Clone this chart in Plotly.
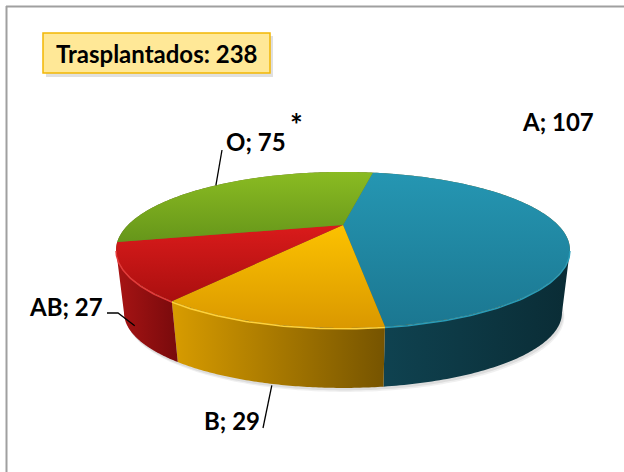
import numpy as np
import plotly.graph_objects as go

# ---- data ----
groups = ["A", "B", "AB", "O"]
counts = [107, 29, 27, 75]
total_text = "Trasplantados: 238"
note_mark = "*"

# ---- styles ----
top_cols = {"A": ("#2596b2", "#1b7791"), "B": ("#fcc200", "#da9800"),
            "AB": ("#da1b1b", "#aa0f0f"), "O": ("#8abb22", "#66961a")}
wall_cols = {"A": ("#0f4250", "#0a2c35"), "B": ("#d89c00", "#765400"),
             "AB": ("#a81414", "#780a0c"), "O": ("#5a8018", "#3a5a10")}
rim_cols = {"A": "#2a9cb8", "B": "#ffd23a", "AB": "#e43a3a", "O": "#9ac830"}

# projection geometry (layout)
cx, cy, Rx, Ry, a = 343, 225, 215, 70, 0.32
s, cyb = 0.965, 288.6
start_angle = 10.5


def proj(theta, bottom=False):
    t = np.radians(theta)
    u = np.sin(t)
    v = -np.cos(t)
    w = 1 - a * v
    X, Y = u / w, v / w
    if bottom:
        return cx + s * Rx * X, cyb + s * Ry * Y
    return cx + Rx * X, cy + Ry * Y


total = sum(counts)
spans = [c / total * 360 for c in counts]
starts = start_angle + np.concatenate([[0], np.cumsum(spans)[:-1]])
ends = starts + np.array(spans)

# visible wall range (silhouette extremes)
th = np.linspace(0, 360, 3601)
xs, _ = proj(th)
th_R = th[:1800][np.argmax(xs[:1800])]
th_L = th[1800:][np.argmin(xs[1800:])]

fig = go.Figure()

# shadow
tt = np.linspace(0, 360, 361)
bx, by = proj(tt, bottom=True)
for off, op in [(4, 0.06), (2.5, 0.08)]:
    fig.add_trace(go.Scatter(x=bx + off * 0.6, y=by + off, fill="toself", mode="none",
                             fillcolor=f"rgba(0,0,0,{op})", hoverinfo="skip"))

# walls
for g, s0, s1 in zip(groups, starts, ends):
    lo, hi = max(s0, th_R), min(s1, th_L)
    if hi <= lo:
        continue
    t = np.linspace(lo, hi, 80)
    tx, ty = proj(t)
    bx2, by2 = proj(t[::-1], bottom=True)
    px = np.concatenate([tx, bx2])
    py = np.concatenate([ty, by2])
    fig.add_trace(go.Scatter(x=px, y=py, fill="toself", mode="none", hoverinfo="skip",
                             fillgradient=dict(type="horizontal",
                                               colorscale=[[0, wall_cols[g][0]], [1, wall_cols[g][1]]])))

# underlay to hide seams
ux, uy = proj(tt)
fig.add_trace(go.Scatter(x=ux, y=uy, fill="toself", mode="none", fillcolor="#6a6a30", hoverinfo="skip"))

# top faces (y axis reversed: colorscale 1 = top of screen)
for g, s0, s1 in zip(groups, starts, ends):
    t = np.linspace(s0, s1, 120)
    tx, ty = proj(t)
    px = np.concatenate([[cx], tx, [cx]])
    py = np.concatenate([[cy], ty, [cy]])
    fig.add_trace(go.Scatter(x=px, y=py, fill="toself", mode="none", hoverinfo="skip",
                             fillgradient=dict(type="vertical",
                                               colorscale=[[0, top_cols[g][1]], [1, top_cols[g][0]]])))

# rim highlight on the front edge
for g, s0, s1 in zip(groups, starts, ends):
    lo, hi = max(s0, th_R), min(s1, th_L)
    if hi <= lo:
        continue
    t = np.linspace(lo, hi, 60)
    tx, ty = proj(t)
    fig.add_trace(go.Scatter(x=tx, y=ty + 1, mode="lines", line=dict(color=rim_cols[g], width=1.5),
                             hoverinfo="skip"))

# labels
mid = (starts + ends) / 2
lab = {g: m for g, m in zip(groups, mid)}
font = dict(family="Lato", size=24, color="black")


def text(x, y, t):
    fig.add_annotation(x=x, y=y, text=f"<b>{t}</b>", showarrow=False, font=font,
                       xanchor="center", yanchor="middle")


text(558, 121, f"{groups[0]}; {counts[0]}")
text(256, 141, f"{groups[3]}; {counts[3]}")
text(66, 306, f"{groups[2]}; {counts[2]}")
text(232, 420, f"{groups[1]}; {counts[1]}")
fig.add_annotation(x=296, y=124, text=f"<b>{note_mark}</b>", showarrow=False,
                   font=dict(family="Lato", size=30, color="black"))

# leader lines
ox, oy = proj(lab["O"])
fig.add_trace(go.Scatter(x=[222, ox], y=[150, oy], mode="lines", line=dict(color="black", width=1.3),
                         hoverinfo="skip"))
bbx, bby = proj(lab["B"], bottom=True)
fig.add_trace(go.Scatter(x=[263, bbx + 3], y=[428, bby + 2], mode="lines",
                         line=dict(color="black", width=1.3), hoverinfo="skip"))
abx, aby = proj(lab["AB"], bottom=True)
fig.add_trace(go.Scatter(x=[107, 118, abx + 2], y=[313, 313, aby - 8], mode="lines",
                         line=dict(color="black", width=1.3), hoverinfo="skip"))

# title box
fig.add_shape(type="rect", x0=46, y0=36, x1=273, y1=77, fillcolor="rgba(0,0,0,0.12)", line=dict(width=0),
              layer="below")
fig.add_shape(type="rect", x0=43, y0=33, x1=270, y1=73, fillcolor="#ffe897",
              line=dict(color="#f2b705", width=1.5))
fig.add_annotation(x=156, y=53, text=f"<b>{total_text}</b>", showarrow=False, font=font)

# chart border (only top and left edges fall inside the picture)
fig.add_shape(type="line", x0=6, y0=6.5, x1=624, y1=6.5, line=dict(color="#a0a0a0", width=2))
fig.add_shape(type="line", x0=6.5, y0=6, x1=6.5, y1=472, line=dict(color="#a0a0a0", width=2))

fig.update_layout(width=624, height=472, margin=dict(l=0, r=0, t=0, b=0),
                  paper_bgcolor="white", plot_bgcolor="white", showlegend=False,
                  xaxis=dict(range=[0, 624], visible=False, fixedrange=True),
                  yaxis=dict(range=[472, 0], visible=False, fixedrange=True))
fig.write_html("out.html", config={"displayModeBar": False},
               post_script=("document.body.style.margin='0';document.body.style.overflow='hidden';"
                            "document.documentElement.style.overflow='hidden';"
                            "document.documentElement.style.scrollbarWidth='none';"
                            "document.body.style.scrollbarWidth='none';"))
